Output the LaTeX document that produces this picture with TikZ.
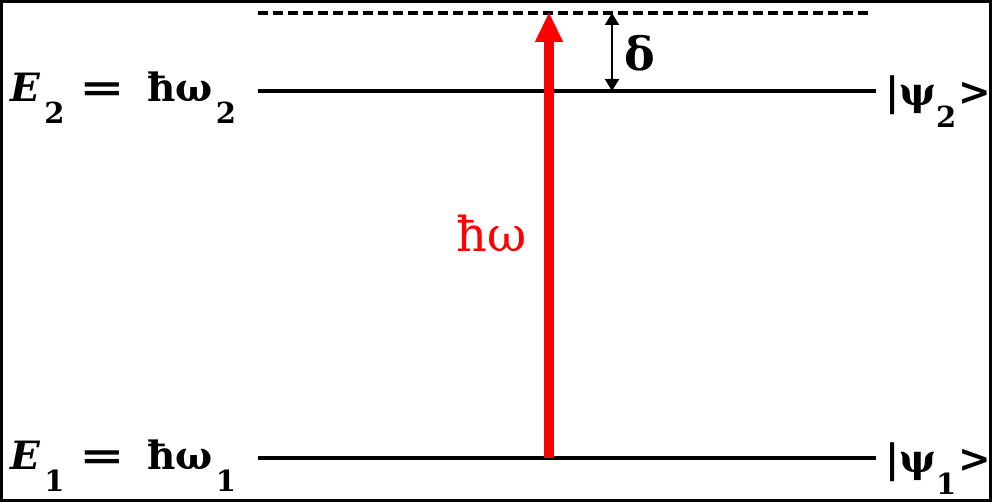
\documentclass[tikz,border=0pt]{standalone}
\usepackage{fontspec}
\setmainfont{DejaVu Serif}
\usetikzlibrary{arrows.meta}
\newcommand{\lsub}[1]{\raisebox{-22pt}{\fontsize{29}{31}\selectfont\bfseries #1}}
\newcommand{\weq}{\scalebox{1.4}[1]{=}}
\tikzset{
  level/.style={line width=4pt},
  lbl/.style={font=\fontsize{39}{43}\selectfont\bfseries, inner sep=0pt},
}
\begin{document}
\begin{tikzpicture}[x=1pt,y=-1pt]
\useasboundingbox (0,0) rectangle (992,502);
\draw[line width=3pt] (1.5,1.5) rectangle (990.5,500.5);
% levels
\coordinate (dL) at (258,13);
\coordinate (dR) at (872,13);
\coordinate (e2L) at (258,91);
\coordinate (e2R) at (876,91);
\coordinate (e1L) at (258,458);
\coordinate (e1R) at (876,458);
\draw[level, dash pattern=on 10pt off 5pt] (dL) -- (dR);
\draw[level] (e2L) -- (e2R);
\draw[level] (e1L) -- (e1R);
% red arrow
\coordinate (rb) at (549,458);
\coordinate (rt) at (549,12);
\draw[red, line width=10pt, -{Triangle[length=30pt,width=26pt]}] (rb) -- (rt);
\node[red, font=\fontsize{48}{52}\selectfont, inner sep=0pt] (hw) at (492,233) {ħω};
% delta
\coordinate (dt) at (612,13);
\coordinate (db) at (612,91);
\draw[line width=2pt, {Triangle[length=12pt,width=14pt]}-{Triangle[length=12pt,width=14pt]}] (dt) -- (db);
\node[lbl, font=\fontsize{46}{50}\selectfont\bfseries] (delta) at (640,53) {δ};
% left labels
\node[lbl, anchor=base west] (E2) at (10,102) {\textit{E}\hspace{4pt}\lsub{2}\hspace{15pt}\weq\hspace{22pt}ħω\hspace{3pt}\lsub{2}};
\node[lbl, anchor=base west] (E1) at (10,469) {\textit{E}\hspace{4pt}\lsub{1}\hspace{15pt}\weq\hspace{22pt}ħω\hspace{3pt}\lsub{1}};
% kets
\node[lbl, anchor=base west] (k2) at (885,106) {|ψ\lsub{2}\hspace{2pt}>};
\node[lbl, anchor=base west] (k1) at (885,472) {|ψ\lsub{1}\hspace{2pt}>};
\end{tikzpicture}
\end{document}
